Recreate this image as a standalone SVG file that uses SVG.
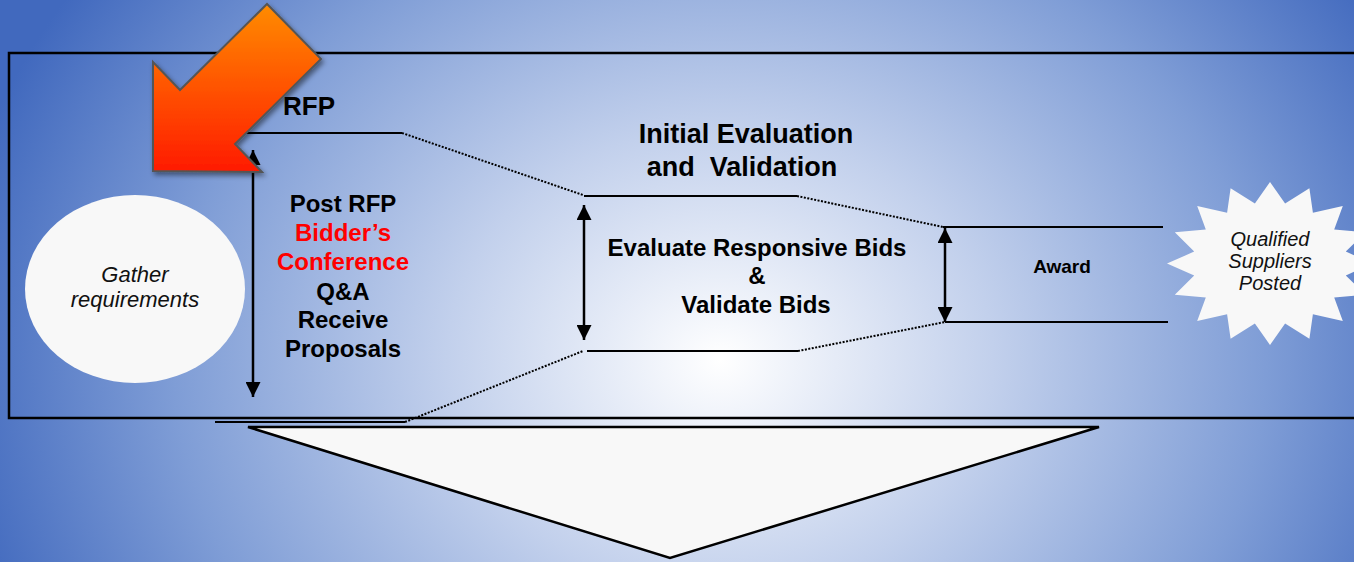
<svg xmlns="http://www.w3.org/2000/svg" width="1354" height="562" viewBox="0 0 1354 562">
<defs>
<radialGradient id="bg" gradientUnits="userSpaceOnUse" cx="720" cy="360" r="780" gradientTransform="translate(720 360) scale(1 0.85) translate(-720 -360)">
<stop offset="0" stop-color="#ffffff"/>
<stop offset="0.35" stop-color="#c2d0ec"/>
<stop offset="0.7" stop-color="#7f9dd6"/>
<stop offset="1" stop-color="#4169be"/>
</radialGradient>
<linearGradient id="orange" x1="0" y1="0" x2="0" y2="1">
<stop offset="0" stop-color="#ff8c00"/>
<stop offset="1" stop-color="#ff1a00"/>
</linearGradient>
<filter id="shadow" x="-20%" y="-20%" width="150%" height="150%">
<feDropShadow dx="2" dy="3" stdDeviation="2.5" flood-color="#000" flood-opacity="0.45"/>
</filter>
<marker id="ah" viewBox="0 0 10 10" refX="10" refY="5" markerWidth="6" markerHeight="6" orient="auto-start-reverse" markerUnits="strokeWidth">
<path d="M0,0 L10,5 L0,10 Z" fill="#000"/>
</marker>
<style>
.frame{fill:none;stroke:#000;stroke-width:2.5}
.ln{stroke:#000;stroke-width:2;fill:none}
.dot{stroke:#000;stroke-width:2;fill:none;stroke-dasharray:2 1.5}
.dbl{stroke:#000;stroke-width:2.5;fill:none}
.b{font-family:"Liberation Sans",Arial,sans-serif;font-weight:bold;fill:#000;text-anchor:middle}
.red{fill:#ff0000}
.it{font-family:"Liberation Sans",Arial,sans-serif;font-style:italic;fill:#111;text-anchor:middle}
.white{fill:#f8f8f8}
</style>
</defs>
<rect id="background" x="0" y="0" width="1354" height="562" fill="url(#bg)"/>
<rect id="frame" class="frame" x="9" y="53" width="1360" height="365"/>

<g id="gather-requirements">
<ellipse class="white" cx="135" cy="289" rx="110" ry="94"/>
<text class="it" font-size="22" x="135" y="282">Gather</text>
<text class="it" font-size="22" x="135" y="307">requirements</text>
</g>

<g id="connectors">
<polyline class="ln" points="245,133 402,133"/>
<line class="dot" x1="402" y1="133" x2="583" y2="195"/>
<line class="ln" x1="215" y1="422" x2="405" y2="422"/>
<line class="dot" x1="405" y1="422" x2="583" y2="351"/>
<line class="ln" x1="584" y1="196" x2="797" y2="196"/>
<line class="ln" x1="587" y1="351" x2="798" y2="351"/>
<line class="dot" x1="797" y1="196" x2="943" y2="227"/>
<line class="dot" x1="798" y1="351" x2="945" y2="322"/>
<line class="ln" x1="943" y1="227" x2="1163" y2="227"/>
<line class="ln" x1="945" y1="322" x2="1168" y2="322"/>
<line class="dbl" x1="253" y1="150" x2="253" y2="397" marker-start="url(#ah)" marker-end="url(#ah)"/>
<line class="dbl" x1="584" y1="205" x2="584" y2="340" marker-start="url(#ah)" marker-end="url(#ah)"/>
<line class="dbl" x1="945" y1="228" x2="945" y2="322" marker-start="url(#ah)" marker-end="url(#ah)"/>
</g>

<g id="start-arrow">
<polygon points="153,171 153,62 180,90 267,4 321,59 235,144 262,172" fill="url(#orange)" stroke="#555" stroke-width="2" stroke-linejoin="miter" filter="url(#shadow)"/>
</g>

<g id="rfp">
<text class="b" font-size="26" x="309" y="115">RFP</text>
</g>

<g id="post-rfp">
<text class="b" font-size="24" x="343" y="212">Post RFP</text>
<text class="b red" font-size="24" x="343" y="241">Bidder’s</text>
<text class="b red" font-size="24" x="343" y="270">Conference</text>
<text class="b" font-size="24" x="343" y="300">Q&amp;A</text>
<text class="b" font-size="24" x="343" y="328">Receive</text>
<text class="b" font-size="24" x="343" y="357">Proposals</text>
</g>

<g id="initial-evaluation">
<text class="b" font-size="27" x="746" y="143">Initial Evaluation</text>
<text class="b" font-size="27" x="742" y="176" xml:space="preserve">and  Validation</text>
</g>

<g id="evaluate">
<text class="b" font-size="24" x="757" y="256">Evaluate Responsive Bids</text>
<text class="b" font-size="24" x="757" y="284">&amp;</text>
<text class="b" font-size="24" x="756" y="313">Validate Bids</text>
</g>

<g id="award">
<text class="b" font-size="19" x="1062" y="273">Award</text>
</g>

<g id="qualified-suppliers">
<polygon class="white" points="1270,182 1285.1,203.6 1309.4,188.2 1312.9,212.7 1342.8,205.9 1334.2,229.6 1365.2,232.3 1345.8,251.6 1373,263.5 1345.8,275.4 1365.2,294.7 1334.2,297.4 1342.8,321.1 1312.9,314.3 1309.4,338.8 1285.1,323.4 1270,345 1254.9,323.4 1230.6,338.8 1227.1,314.3 1197.2,321.1 1205.8,297.4 1174.8,294.7 1194.2,275.4 1167,263.5 1194.2,251.6 1174.8,232.3 1205.8,229.6 1197.2,205.9 1227.1,212.7 1230.6,188.2 1254.9,203.6"/>
<text class="it" font-size="20" x="1270" y="246">Qualified</text>
<text class="it" font-size="20" x="1270" y="268">Suppliers</text>
<text class="it" font-size="20" x="1270" y="290">Posted</text>
</g>

<g id="bottom-arrow">
<polygon points="248,427 1099,427 670,558" fill="#f8f8f8" stroke="#000" stroke-width="2.5" stroke-linejoin="miter"/>
</g>
</svg>
